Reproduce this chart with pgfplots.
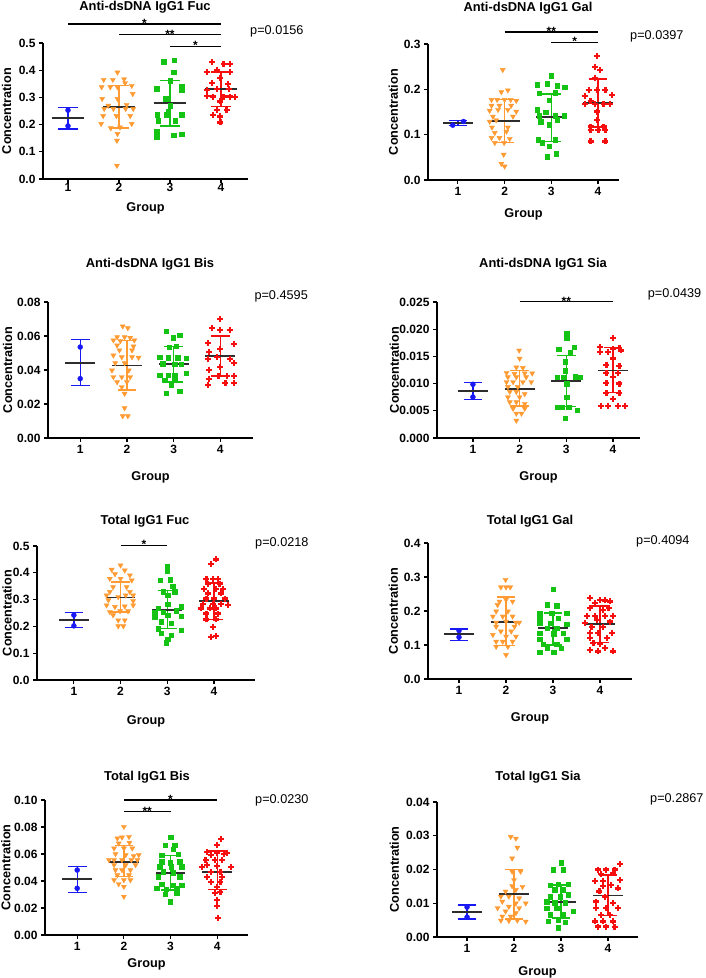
\documentclass[border=0pt]{standalone}
\usepackage{fontspec}
\setmainfont{Liberation Sans}
\usepackage{pgfplots}
\pgfplotsset{compat=1.18}
\definecolor{cb}{RGB}{25,25,245}
\definecolor{co}{RGB}{255,155,50}
\definecolor{cg}{RGB}{20,195,20}
\definecolor{cr}{RGB}{245,15,15}
\definecolor{cm}{RGB}{45,45,45}
\newcommand\tfont{\bfseries\fontsize{12.9}{14}\selectfont}
\newcommand\pfont{\fontsize{12.7}{14}\selectfont}
\newcommand\sfont{\bfseries\fontsize{12}{12}\selectfont}
\pgfplotsset{
  panel/.style={
    scale only axis, anchor=south west,
    axis x line*=bottom, axis y line*=left,
    axis line style={-, line width=1.2pt},
    tick style={black, line width=1.2pt},
    tick align=outside, major tick length=4pt,
    xtick={1,2,3,4}, minor tick num=0,
    ymin=0, clip=false,
    ticklabel style={font=\bfseries\fontsize{12}{12}\selectfont},
    label style={font=\bfseries\fontsize{12.7}{13}\selectfont},
    xlabel={Group}, ylabel={Concentration},
    scaled y ticks=false,
    /pgf/number format/assume math mode=true,
    yticklabel style={/pgf/number format/fixed, /pgf/number format/fixed zerofill, /pgf/number format/precision=#1},
  },
  lab/.style 2 args={
    ylabel style={at={(axis description cs:#1,0.5)}, anchor=center},
    xlabel style={at={(axis description cs:0.5,#2)}, anchor=base},
  },
  g1/.style={only marks, mark=*, mark size=2.5pt, color=cb},
  g2/.style={only marks, mark=triangle*, mark size=2.9pt, mark options={rotate=180}, color=co},
  g3/.style={only marks, mark=square*, mark size=2.2pt, color=cg},
  g4/.style={only marks, mark=+, mark size=3pt, line width=2.2pt, mark options={line width=2.2pt}, color=cr},
  sd/.style={no marks, line width=1.3pt, unbounded coords=jump},
  mn/.style={no marks, line width=1.8pt, color=cm},
}
\begin{document}
\begin{tikzpicture}[x=1pt,y=1pt]
\useasboundingbox (0,0) rectangle (705,978);

% ---------- Panel 1: Anti-dsDNA IgG1 Fuc
\begin{axis}[panel=1, lab={-0.1771}{-0.2404}, xticklabel style={yshift=3pt}, at={(43pt,799pt)}, width=205pt, height=136pt, xmin=0.51, xmax=4.53, ymax=0.5, ytick={0,0.1,0.2,0.3,0.4,0.5}]
\addplot[g1] coordinates {(1,0.253)(1,0.195)};
\addplot[g2] coordinates {(1.97,0.392)(1.70,0.365)(1.88,0.365)(2.10,0.367)(2.25,0.343)(1.66,0.338)(1.83,0.338)(1.97,0.338)(2.12,0.353)(2.27,0.313)(1.67,0.295)(1.97,0.295)(1.79,0.270)(2.15,0.273)(1.71,0.258)(1.89,0.258)(2.13,0.258)(2.28,0.258)(1.69,0.232)(1.95,0.232)(2.22,0.232)(1.65,0.203)(2.25,0.203)(1.84,0.187)(2.02,0.190)(1.97,0.166)(1.96,0.141)(1.96,0.049)};
\addplot[g3] coordinates {(2.88,0.431)(3.08,0.436)(3.07,0.392)(3.00,0.361)(2.74,0.332)(3.23,0.340)(3.23,0.326)(2.92,0.295)(3.00,0.269)(2.97,0.248)(2.75,0.236)(2.93,0.236)(3.23,0.236)(2.77,0.215)(3.10,0.215)(2.74,0.174)(3.07,0.162)(3.23,0.165)(2.74,0.154)};
\addplot[g4] coordinates {(3.82,0.429)(4.05,0.424)(4.18,0.424)(3.72,0.392)(3.92,0.399)(4.18,0.392)(3.98,0.371)(3.82,0.353)(4.14,0.350)(3.72,0.328)(3.92,0.330)(4.15,0.330)(3.72,0.306)(3.85,0.303)(4.05,0.303)(4.18,0.303)(4.27,0.301)(3.98,0.285)(3.92,0.254)(4.11,0.254)(3.85,0.236)(3.98,0.230)(3.99,0.208)};
\addplot[sd,cb] coordinates {(0.8,0.264)(1.2,0.264)(1,nan)(1,0.264)(1,0.184)(1,nan)(0.8,0.184)(1.2,0.184)};
\addplot[sd,co] coordinates {(1.8,0.344)(2.2,0.344)(2,nan)(2,0.344)(2,0.187)(2,nan)(1.8,0.187)(2.2,0.187)};
\addplot[sd,cg] coordinates {(2.8,0.362)(3.2,0.362)(3,nan)(3,0.362)(3,0.195)(3,nan)(2.8,0.195)(3.2,0.195)};
\addplot[sd,cr] coordinates {(3.8,0.393)(4.2,0.393)(4,nan)(4,0.393)(4,0.267)(4,nan)(3.8,0.267)(4.2,0.267)};
\addplot[mn] coordinates {(0.68,0.224)(1.32,0.224)};
\addplot[mn] coordinates {(1.68,0.266)(2.32,0.266)};
\addplot[mn] coordinates {(2.68,0.279)(3.32,0.279)};
\addplot[mn] coordinates {(3.68,0.330)(4.32,0.330)};
\draw[line width=1.2pt] (axis cs:1,0.570) -- (axis cs:4,0.570);
\node[anchor=base, font=\sfont, yshift=-3.5pt] at (axis cs:2.5,0.570) {*};
\draw[line width=1.2pt] (axis cs:2,0.531) -- (axis cs:4,0.531);
\node[anchor=base, font=\sfont, yshift=-3.5pt] at (axis cs:3,0.531) {**};
\draw[line width=1.2pt] (axis cs:3,0.488) -- (axis cs:4,0.488);
\node[anchor=base, font=\sfont, yshift=-3.5pt] at (axis cs:3.5,0.488) {*};
\end{axis}

% ---------- Panel 2: Anti-dsDNA IgG1 Gal
\begin{axis}[panel=1, lab={-0.1817}{-0.2757}, at={(428pt,798pt)}, width=191pt, height=136pt, xmin=0.36, xmax=4.45, ymax=0.3, ytick={0,0.1,0.2,0.3}]
\addplot[g1] coordinates {(0.89,0.121)(1.12,0.129)};
\addplot[g2] coordinates {(1.96,0.243)(1.93,0.194)(2.07,0.198)(1.72,0.177)(1.84,0.177)(2.00,0.177)(2.13,0.177)(2.25,0.175)(1.72,0.164)(1.89,0.164)(2.14,0.164)(1.68,0.153)(1.86,0.155)(2.07,0.155)(2.25,0.151)(1.75,0.140)(2.18,0.140)(1.68,0.129)(1.82,0.132)(1.73,0.116)(2.07,0.116)(1.79,0.104)(2.04,0.107)(1.72,0.093)(1.89,0.093)(2.11,0.091)(1.79,0.082)(1.99,0.082)(1.98,0.056)(1.93,0.036)(2.00,0.030)};
\addplot[g3] coordinates {(3.00,0.230)(2.70,0.210)(2.91,0.212)(3.13,0.208)(3.29,0.205)(2.74,0.192)(3.09,0.193)(2.95,0.176)(2.70,0.155)(2.88,0.149)(2.74,0.142)(3.09,0.142)(3.27,0.142)(2.77,0.129)(3.13,0.133)(2.95,0.122)(2.72,0.089)(3.09,0.089)(2.81,0.082)(2.95,0.074)(2.91,0.051)(3.11,0.058)};
\addplot[g4] coordinates {(3.98,0.273)(3.94,0.249)(4.05,0.242)(3.94,0.225)(3.80,0.199)(3.98,0.199)(4.16,0.199)(3.72,0.185)(4.30,0.188)(3.84,0.174)(3.73,0.168)(3.94,0.168)(4.12,0.168)(4.26,0.168)(3.98,0.151)(3.98,0.133)(3.84,0.118)(4.12,0.118)(3.84,0.110)(4.01,0.110)(4.16,0.110)(3.84,0.085)(4.16,0.085)};
\addplot[sd,cb] coordinates {(0.8,0.132)(1.2,0.132)(1,nan)(1,0.132)(1,0.120)(1,nan)(0.8,0.120)(1.2,0.120)};
\addplot[sd,co] coordinates {(1.8,0.177)(2.2,0.177)(2,nan)(2,0.177)(2,0.083)(2,nan)(1.8,0.083)(2.2,0.083)};
\addplot[sd,cg] coordinates {(2.8,0.190)(3.2,0.190)(3,nan)(3,0.190)(3,0.085)(3,nan)(2.8,0.085)(3.2,0.085)};
\addplot[sd,cr] coordinates {(3.8,0.223)(4.2,0.223)(4,nan)(4,0.223)(4,0.117)(4,nan)(3.8,0.117)(4.2,0.117)};
\addplot[mn] coordinates {(0.68,0.126)(1.32,0.126)};
\addplot[mn] coordinates {(1.68,0.131)(2.32,0.131)};
\addplot[mn] coordinates {(2.68,0.139)(3.32,0.139)};
\addplot[mn] coordinates {(3.68,0.170)(4.32,0.170)};
\draw[line width=1.2pt] (axis cs:2,0.3265) -- (axis cs:4,0.3265);
\node[anchor=base, font=\sfont, yshift=-3.5pt] at (axis cs:3,0.3265) {**};
\draw[line width=1.2pt] (axis cs:3,0.3037) -- (axis cs:4,0.3037);
\node[anchor=base, font=\sfont, yshift=-3.5pt] at (axis cs:3.5,0.3037) {*};
\end{axis}

% ---------- Panel 3: Anti-dsDNA IgG1 Bis
\begin{axis}[panel=2, lab={-0.1966}{-0.3162}, at={(48pt,540pt)}, width=205pt, height=136pt, xmin=0.31, xmax=4.7, ymax=0.08, ytick={0,0.02,0.04,0.06,0.08}]
\addplot[g1] coordinates {(1,0.0535)(1,0.0349)};
\addplot[g2] coordinates {(1.91,0.0657)(2.02,0.0647)(1.79,0.0594)(1.95,0.0594)(2.07,0.0590)(1.71,0.0575)(1.86,0.0571)(2.16,0.0575)(1.79,0.0545)(2.14,0.0539)(1.84,0.0516)(2.11,0.0516)(1.71,0.0486)(1.89,0.0476)(2.11,0.0476)(2.25,0.0473)(1.75,0.0441)(1.95,0.0441)(1.68,0.0398)(2.04,0.0398)(1.71,0.0359)(1.89,0.0359)(2.07,0.0359)(1.79,0.0329)(2.00,0.0329)(1.89,0.0300)(1.95,0.0261)(1.95,0.0176)(1.91,0.0129)(2.02,0.0129)};
\addplot[g3] coordinates {(2.84,0.0627)(3.13,0.0604)(2.99,0.0590)(2.91,0.0535)(3.06,0.0539)(2.70,0.0476)(2.88,0.0473)(3.09,0.0473)(3.27,0.0471)(2.77,0.0437)(3.02,0.0433)(3.16,0.0433)(2.70,0.0369)(2.88,0.0369)(3.02,0.0369)(3.27,0.0382)(2.81,0.0339)(3.02,0.0339)(2.95,0.0310)(2.84,0.0265)(3.13,0.0276)};
\addplot[g4] coordinates {(4.00,0.0702)(3.82,0.0649)(4.00,0.0637)(4.20,0.0637)(3.73,0.0559)(4.29,0.0551)(3.75,0.0506)(4.00,0.0525)(3.73,0.0467)(3.93,0.0476)(4.21,0.0467)(3.75,0.0402)(4.00,0.0418)(4.29,0.0441)(3.75,0.0349)(3.96,0.0363)(4.14,0.0363)(4.29,0.0363)(3.73,0.0310)(4.11,0.0324)(4.29,0.0324)};
\addplot[sd,cb] coordinates {(0.8,0.0578)(1.2,0.0578)(1,nan)(1,0.0578)(1,0.0310)(1,nan)(0.8,0.0310)(1.2,0.0310)};
\addplot[sd,co] coordinates {(1.8,0.0575)(2.2,0.0575)(2,nan)(2,0.0575)(2,0.0282)(2,nan)(1.8,0.0282)(2.2,0.0282)};
\addplot[sd,cg] coordinates {(2.8,0.0540)(3.2,0.0540)(3,nan)(3,0.0540)(3,0.0330)(3,nan)(2.8,0.0330)(3.2,0.0330)};
\addplot[sd,cr] coordinates {(3.8,0.0600)(4.2,0.0600)(4,nan)(4,0.0600)(4,0.0365)(4,nan)(3.8,0.0365)(4.2,0.0365)};
\addplot[mn] coordinates {(0.68,0.0443)(1.32,0.0443)};
\addplot[mn] coordinates {(1.68,0.0427)(2.32,0.0427)};
\addplot[mn] coordinates {(2.68,0.0437)(3.32,0.0437)};
\addplot[mn] coordinates {(3.68,0.0480)(4.32,0.0480)};
\end{axis}

% ---------- Panel 4: Anti-dsDNA IgG1 Sia
\begin{axis}[panel=3, lab={-0.2103}{-0.3162}, at={(437pt,540pt)}, width=203pt, height=136pt, xmin=0.23, xmax=4.58, ymax=0.025, ytick={0,0.005,0.01,0.015,0.02,0.025}]
\addplot[g1] coordinates {(1,0.00987)(1,0.00754)};
\addplot[g2] coordinates {(1.99,0.0161)(2.00,0.0146)(1.93,0.0130)(2.07,0.0129)(1.72,0.0120)(1.89,0.0118)(2.11,0.0119)(2.27,0.0119)(1.75,0.0112)(1.93,0.0112)(2.14,0.0112)(1.72,0.0103)(1.86,0.0103)(2.07,0.0103)(2.25,0.0103)(1.75,0.0094)(1.96,0.0094)(1.79,0.0085)(1.93,0.0085)(2.11,0.0081)(1.75,0.0075)(2.00,0.0075)(1.79,0.0066)(1.93,0.0066)(2.11,0.0063)(1.86,0.0054)(2.11,0.0054)(1.93,0.0045)(2.04,0.0045)(1.93,0.0032)};
\addplot[g3] coordinates {(3.01,0.0193)(3.01,0.0184)(2.84,0.0163)(3.17,0.0167)(3.09,0.0158)(2.98,0.0140)(2.98,0.0124)(2.80,0.0112)(2.94,0.0112)(3.19,0.0113)(3.30,0.0112)(3.01,0.0100)(3.01,0.0075)(2.80,0.0057)(2.91,0.0057)(3.05,0.0057)(3.23,0.0051)(2.98,0.0036)};
\addplot[g4] coordinates {(4.00,0.0184)(3.73,0.0167)(4.00,0.0164)(4.14,0.0165)(3.73,0.0158)(3.89,0.0158)(4.18,0.0161)(4.00,0.0146)(3.86,0.0134)(4.14,0.0132)(3.86,0.0119)(4.11,0.0119)(4.00,0.0112)(3.86,0.0101)(4.14,0.0100)(3.86,0.0083)(4.14,0.0083)(4.00,0.0072)(3.75,0.0059)(3.89,0.0059)(4.11,0.0059)(4.25,0.0059)};
\addplot[sd,cb] coordinates {(0.8,0.01023)(1.2,0.01023)(1,nan)(1,0.01023)(1,0.00705)(1,nan)(0.8,0.00705)(1.2,0.00705)};
\addplot[sd,co] coordinates {(1.8,0.0124)(2.2,0.0124)(2,nan)(2,0.0124)(2,0.0059)(2,nan)(1.8,0.0059)(2.2,0.0059)};
\addplot[sd,cg] coordinates {(2.8,0.0152)(3.2,0.0152)(3,nan)(3,0.0152)(3,0.0058)(3,nan)(2.8,0.0058)(3.2,0.0058)};
\addplot[sd,cr] coordinates {(3.8,0.0166)(4.2,0.0166)(4,nan)(4,0.0166)(4,0.0083)(4,nan)(3.8,0.0083)(4.2,0.0083)};
\addplot[mn] coordinates {(0.68,0.00864)(1.32,0.00864)};
\addplot[mn] coordinates {(1.68,0.00907)(2.32,0.00907)};
\addplot[mn] coordinates {(2.68,0.0105)(3.32,0.0105)};
\addplot[mn] coordinates {(3.68,0.0124)(4.32,0.0124)};
\draw[line width=1.2pt] (axis cs:2,0.02506) -- (axis cs:4,0.02506);
\node[anchor=base, font=\sfont, yshift=-3.5pt] at (axis cs:3,0.02506) {**};
\end{axis}

% ---------- Panel 5: Total IgG1 Fuc
\begin{axis}[panel=1, lab={-0.1367}{-0.3284}, at={(37pt,298pt)}, width=218pt, height=134pt, xmin=0.21, xmax=4.88, ymax=0.5, ytick={0,0.1,0.2,0.3,0.4,0.5}]
\addplot[g1] coordinates {(1,0.242)(1,0.202)};
\addplot[g2] coordinates {(2.00,0.428)(1.81,0.412)(2.09,0.409)(1.88,0.395)(2.20,0.391)(1.77,0.378)(2.00,0.378)(2.24,0.372)(1.84,0.347)(2.13,0.347)(1.77,0.329)(2.20,0.329)(1.70,0.316)(1.95,0.310)(2.11,0.316)(2.27,0.316)(1.74,0.298)(2.27,0.295)(1.70,0.279)(1.88,0.273)(2.09,0.275)(2.27,0.279)(1.77,0.254)(1.99,0.257)(2.16,0.257)(1.84,0.242)(1.95,0.223)(2.09,0.223)(1.95,0.201)(2.06,0.201)};
\addplot[g3] coordinates {(3.00,0.424)(3.00,0.407)(3.06,0.375)(2.85,0.372)(3.12,0.350)(2.91,0.329)(3.16,0.329)(3.01,0.316)(3.01,0.283)(3.30,0.273)(2.80,0.267)(2.73,0.254)(2.91,0.254)(3.19,0.258)(2.73,0.236)(3.01,0.242)(3.30,0.238)(2.87,0.217)(3.09,0.211)(2.80,0.192)(3.30,0.186)(2.87,0.174)(3.09,0.167)(3.01,0.153)(2.98,0.139)};
\addplot[g4] coordinates {(4.05,0.450)(3.94,0.434)(3.84,0.378)(3.98,0.378)(4.09,0.378)(3.87,0.360)(4.12,0.360)(3.78,0.341)(4.05,0.341)(4.19,0.341)(3.87,0.323)(4.16,0.323)(3.84,0.304)(4.01,0.304)(4.23,0.304)(3.76,0.285)(3.98,0.285)(4.16,0.285)(4.30,0.279)(3.73,0.267)(3.91,0.267)(4.05,0.267)(3.84,0.248)(4.09,0.248)(3.84,0.226)(4.05,0.226)(3.98,0.198)(3.94,0.161)(4.05,0.164)};
\addplot[sd,cb] coordinates {(0.8,0.252)(1.2,0.252)(1,nan)(1,0.252)(1,0.196)(1,nan)(0.8,0.196)(1.2,0.196)};
\addplot[sd,co] coordinates {(1.8,0.366)(2.2,0.366)(2,nan)(2,0.366)(2,0.254)(2,nan)(1.8,0.254)(2.2,0.254)};
\addplot[sd,cg] coordinates {(2.8,0.335)(3.2,0.335)(3,nan)(3,0.335)(3,0.192)(3,nan)(2.8,0.192)(3.2,0.192)};
\addplot[sd,cr] coordinates {(3.8,0.362)(4.2,0.362)(4,nan)(4,0.362)(4,0.226)(4,nan)(3.8,0.226)(4.2,0.226)};
\addplot[mn] coordinates {(0.68,0.223)(1.32,0.223)};
\addplot[mn] coordinates {(1.68,0.308)(2.32,0.308)};
\addplot[mn] coordinates {(2.68,0.261)(3.32,0.261)};
\addplot[mn] coordinates {(3.68,0.294)(4.32,0.294)};
\draw[line width=1.2pt] (axis cs:2,0.5025) -- (axis cs:3,0.5025);
\node[anchor=base, font=\sfont, yshift=-3.5pt] at (axis cs:2.5,0.5025) {*};
\end{axis}

% ---------- Panel 6: Total IgG1 Gal
\begin{axis}[panel=1, lab={-0.1701}{-0.3125}, at={(428pt,299pt)}, width=204pt, height=136pt, xmin=0.34, xmax=4.68, ymax=0.4, ytick={0,0.1,0.2,0.3,0.4}]
\addplot[g1] coordinates {(1,0.1425)(1,0.123)};
\addplot[g2] coordinates {(1.99,0.292)(1.89,0.270)(2.00,0.270)(2.09,0.270)(2.00,0.233)(1.86,0.228)(2.14,0.228)(1.82,0.218)(1.79,0.199)(2.04,0.199)(1.72,0.184)(1.93,0.184)(2.14,0.184)(1.79,0.166)(2.00,0.169)(2.21,0.166)(2.28,0.166)(1.79,0.154)(2.18,0.154)(1.89,0.140)(2.11,0.140)(1.72,0.130)(2.00,0.125)(2.21,0.125)(1.79,0.110)(1.93,0.110)(2.14,0.110)(1.79,0.095)(2.04,0.095)(2.00,0.071)};
\addplot[g3] coordinates {(3.00,0.264)(2.87,0.218)(3.08,0.215)(2.72,0.194)(2.97,0.194)(3.29,0.194)(2.72,0.179)(3.11,0.179)(2.72,0.164)(2.94,0.164)(3.29,0.162)(2.87,0.149)(3.08,0.149)(2.72,0.135)(3.01,0.133)(3.22,0.135)(2.72,0.117)(3.29,0.117)(2.79,0.103)(3.08,0.103)(2.87,0.090)(3.18,0.090)(2.72,0.078)(3.01,0.078)};
\addplot[g4] coordinates {(3.79,0.238)(4.00,0.233)(4.11,0.231)(4.21,0.228)(3.89,0.223)(3.79,0.208)(4.18,0.208)(4.07,0.203)(3.72,0.186)(3.89,0.186)(4.11,0.186)(4.28,0.186)(3.93,0.174)(4.21,0.169)(3.68,0.164)(3.82,0.154)(4.07,0.154)(3.79,0.135)(3.96,0.135)(4.25,0.135)(3.79,0.120)(4.14,0.120)(3.86,0.105)(4.00,0.103)(3.79,0.086)(4.11,0.090)(4.28,0.081)(3.96,0.081)};
\addplot[sd,cb] coordinates {(0.8,0.147)(1.2,0.147)(1,nan)(1,0.147)(1,0.114)(1,nan)(0.8,0.114)(1.2,0.114)};
\addplot[sd,co] coordinates {(1.8,0.241)(2.2,0.241)(2,nan)(2,0.241)(2,0.098)(2,nan)(1.8,0.098)(2.2,0.098)};
\addplot[sd,cg] coordinates {(2.8,0.194)(3.2,0.194)(3,nan)(3,0.194)(3,0.100)(3,nan)(2.8,0.100)(3.2,0.100)};
\addplot[sd,cr] coordinates {(3.8,0.215)(4.2,0.215)(4,nan)(4,0.215)(4,0.108)(4,nan)(3.8,0.108)(4.2,0.108)};
\addplot[mn] coordinates {(0.68,0.132)(1.32,0.132)};
\addplot[mn] coordinates {(1.68,0.167)(2.32,0.167)};
\addplot[mn] coordinates {(2.68,0.149)(3.32,0.149)};
\addplot[mn] coordinates {(3.68,0.161)(4.32,0.161)};
\end{axis}

% ---------- Panel 7: Total IgG1 Bis
\begin{axis}[panel=2, lab={-0.1931}{-0.2444}, at={(45pt,43pt)}, width=203pt, height=135pt, xmin=0.31, xmax=4.66, ymax=0.1, ytick={0,0.02,0.04,0.06,0.08,0.1}]
\addplot[g1] coordinates {(1,0.0481)(1,0.0346)};
\addplot[g2] coordinates {(2.00,0.0802)(1.86,0.0716)(1.96,0.0723)(2.11,0.0728)(1.89,0.0679)(2.12,0.0684)(1.79,0.0642)(2.00,0.0642)(2.18,0.0642)(1.82,0.0600)(2.04,0.0593)(2.21,0.0585)(2.32,0.0593)(1.79,0.0556)(1.96,0.0556)(2.16,0.0556)(1.68,0.0556)(2.29,0.0556)(1.79,0.0519)(2.04,0.0519)(2.25,0.0519)(1.82,0.0481)(1.96,0.0481)(2.14,0.0481)(1.86,0.0444)(2.11,0.0444)(1.79,0.0407)(2.00,0.0407)(2.14,0.0407)(1.89,0.0378)(2.00,0.0358)(2.00,0.0284)};
\addplot[g3] coordinates {(3.00,0.0723)(2.88,0.0667)(3.09,0.0667)(3.06,0.0635)(2.81,0.0593)(3.16,0.0600)(2.81,0.0543)(2.99,0.0536)(3.20,0.0543)(2.77,0.0506)(3.02,0.0506)(3.24,0.0506)(2.84,0.0469)(3.06,0.0462)(2.74,0.0432)(3.20,0.0432)(2.81,0.0378)(3.06,0.0370)(3.24,0.0370)(2.70,0.0346)(2.91,0.0338)(3.13,0.0346)(2.88,0.0304)(3.13,0.0309)(2.99,0.0247)};
\addplot[g4] coordinates {(4.09,0.0709)(4.00,0.0667)(3.79,0.0617)(4.00,0.0610)(4.21,0.0610)(3.86,0.0593)(4.14,0.0600)(3.75,0.0556)(3.96,0.0556)(4.11,0.0556)(3.79,0.0519)(4.00,0.0511)(4.29,0.0501)(3.68,0.0506)(3.86,0.0469)(4.07,0.0469)(3.79,0.0432)(4.11,0.0432)(3.86,0.0395)(4.07,0.0395)(4.00,0.0358)(3.96,0.0309)(4.07,0.0316)(4.00,0.0259)(4.00,0.0215)(4.01,0.0123)};
\addplot[sd,cb] coordinates {(0.8,0.0506)(1.2,0.0506)(1,nan)(1,0.0506)(1,0.0316)(1,nan)(0.8,0.0316)(1.2,0.0316)};
\addplot[sd,co] coordinates {(1.8,0.0662)(2.2,0.0662)(2,nan)(2,0.0662)(2,0.0432)(2,nan)(1.8,0.0432)(2.2,0.0432)};
\addplot[sd,cg] coordinates {(2.8,0.0588)(3.2,0.0588)(3,nan)(3,0.0588)(3,0.0333)(3,nan)(2.8,0.0333)(3.2,0.0333)};
\addplot[sd,cr] coordinates {(3.8,0.0622)(4.2,0.0622)(4,nan)(4,0.0622)(4,0.0338)(4,nan)(3.8,0.0338)(4.2,0.0338)};
\addplot[mn] coordinates {(0.68,0.0412)(1.32,0.0412)};
\addplot[mn] coordinates {(1.68,0.0543)(2.32,0.0543)};
\addplot[mn] coordinates {(2.68,0.0462)(3.32,0.0462)};
\addplot[mn] coordinates {(3.68,0.0469)(4.32,0.0469)};
\draw[line width=1.2pt] (axis cs:2,0.1000) -- (axis cs:4,0.1000);
\node[anchor=base, font=\sfont, yshift=-3.5pt] at (axis cs:3,0.1000) {*};
\draw[line width=1.2pt] (axis cs:2,0.0914) -- (axis cs:3,0.0914);
\node[anchor=base, font=\sfont, yshift=-3.5pt] at (axis cs:2.5,0.0914) {**};
\end{axis}

% ---------- Panel 8: Total IgG1 Sia
\begin{axis}[panel=2, lab={-0.2124}{-0.2815}, at={(437pt,41pt)}, width=201pt, height=135pt, xmin=0.36, xmax=4.64, ymax=0.04, ytick={0,0.01,0.02,0.03,0.04}]
\addplot[g1] coordinates {(1,0.00885)(1,0.0059)};
\addplot[g2] coordinates {(1.93,0.0297)(2.04,0.0292)(2.07,0.0265)(1.96,0.0233)(1.96,0.0194)(2.14,0.0194)(2.00,0.0169)(1.96,0.0151)(2.18,0.0149)(1.82,0.0135)(2.04,0.0140)(1.72,0.0120)(1.89,0.0120)(2.11,0.0115)(1.75,0.0105)(2.04,0.0100)(2.25,0.0100)(1.65,0.0086)(1.89,0.0090)(2.11,0.0086)(1.82,0.0076)(2.04,0.0071)(1.75,0.0061)(1.93,0.0061)(1.72,0.0049)(1.89,0.0048)(2.07,0.0049)(2.25,0.0046)};
\addplot[g3] coordinates {(3.00,0.0220)(2.84,0.0199)(3.05,0.0199)(2.77,0.0154)(2.94,0.0157)(3.16,0.0157)(2.87,0.0140)(3.05,0.0140)(2.77,0.0120)(2.98,0.0120)(3.16,0.0125)(2.70,0.0105)(2.87,0.0102)(3.09,0.0102)(2.70,0.0086)(2.91,0.0086)(3.26,0.0076)(2.77,0.0066)(3.05,0.0066)(2.73,0.0046)(2.94,0.0049)(3.09,0.0043)(2.94,0.0027)};
\addplot[g4] coordinates {(4.25,0.0216)(3.79,0.0200)(3.96,0.0200)(4.14,0.0200)(3.86,0.0187)(4.11,0.0189)(3.72,0.0167)(3.89,0.0167)(4.25,0.0169)(3.89,0.0151)(4.07,0.0154)(3.82,0.0135)(4.21,0.0144)(3.93,0.0120)(3.75,0.0105)(4.11,0.0100)(3.75,0.0086)(3.96,0.0086)(4.21,0.0086)(3.86,0.0066)(4.04,0.0066)(3.72,0.0046)(3.89,0.0046)(4.11,0.0046)(3.79,0.0031)(3.96,0.0031)(4.14,0.0029)};
\addplot[sd,cb] coordinates {(0.8,0.0095)(1.2,0.0095)(1,nan)(1,0.0095)(1,0.0053)(1,nan)(0.8,0.0053)(1.2,0.0053)};
\addplot[sd,co] coordinates {(1.8,0.0199)(2.2,0.0199)(2,nan)(2,0.0199)(2,0.0053)(2,nan)(1.8,0.0053)(2.2,0.0053)};
\addplot[sd,cg] coordinates {(2.8,0.0154)(3.2,0.0154)(3,nan)(3,0.0154)(3,0.0056)(3,nan)(2.8,0.0056)(3.2,0.0056)};
\addplot[sd,cr] coordinates {(3.8,0.0184)(4.2,0.0184)(4,nan)(4,0.0184)(4,0.0063)(4,nan)(3.8,0.0063)(4.2,0.0063)};
\addplot[mn] coordinates {(0.68,0.0075)(1.32,0.0075)};
\addplot[mn] coordinates {(1.68,0.0128)(2.32,0.0128)};
\addplot[mn] coordinates {(2.68,0.0104)(3.32,0.0104)};
\addplot[mn] coordinates {(3.68,0.0123)(4.32,0.0123)};
\end{axis}

% ---------- titles and p-values
\node[anchor=base, font=\tfont] at (145,967.2) {Anti-dsDNA IgG1 Fuc};
\node[anchor=base, font=\tfont] at (528,966.2) {Anti-dsDNA IgG1 Gal};
\node[anchor=base, font=\tfont] at (150,710) {Anti-dsDNA IgG1 Bis};
\node[anchor=base, font=\tfont] at (543,710) {Anti-dsDNA IgG1 Sia};
\node[anchor=base, font=\tfont] at (145,453.7) {Total IgG1 Fuc};
\node[anchor=base, font=\tfont] at (530,453.4) {Total IgG1 Gal};
\node[anchor=base, font=\tfont] at (147,197.4) {Total IgG1 Bis};
\node[anchor=base, font=\tfont] at (538,197) {Total IgG1 Sia};
\node[anchor=base west, inner sep=0pt, font=\pfont] at (250,943.5) {p=0.0156};
\node[anchor=base west, inner sep=0pt, font=\pfont] at (630,938.5) {p=0.0397};
\node[anchor=base west, inner sep=0pt, font=\pfont] at (254.3,678.5) {p=0.4595};
\node[anchor=base west, inner sep=0pt, font=\pfont] at (647.7,680.2) {p=0.0439};
\node[anchor=base west, inner sep=0pt, font=\pfont] at (255,431.8) {p=0.0218};
\node[anchor=base west, inner sep=0pt, font=\pfont] at (636,433.5) {p=0.4094};
\node[anchor=base west, inner sep=0pt, font=\pfont] at (255,174.2) {p=0.0230};
\node[anchor=base west, inner sep=0pt, font=\pfont] at (650,175.2) {p=0.2867};
\end{tikzpicture}
\end{document}
